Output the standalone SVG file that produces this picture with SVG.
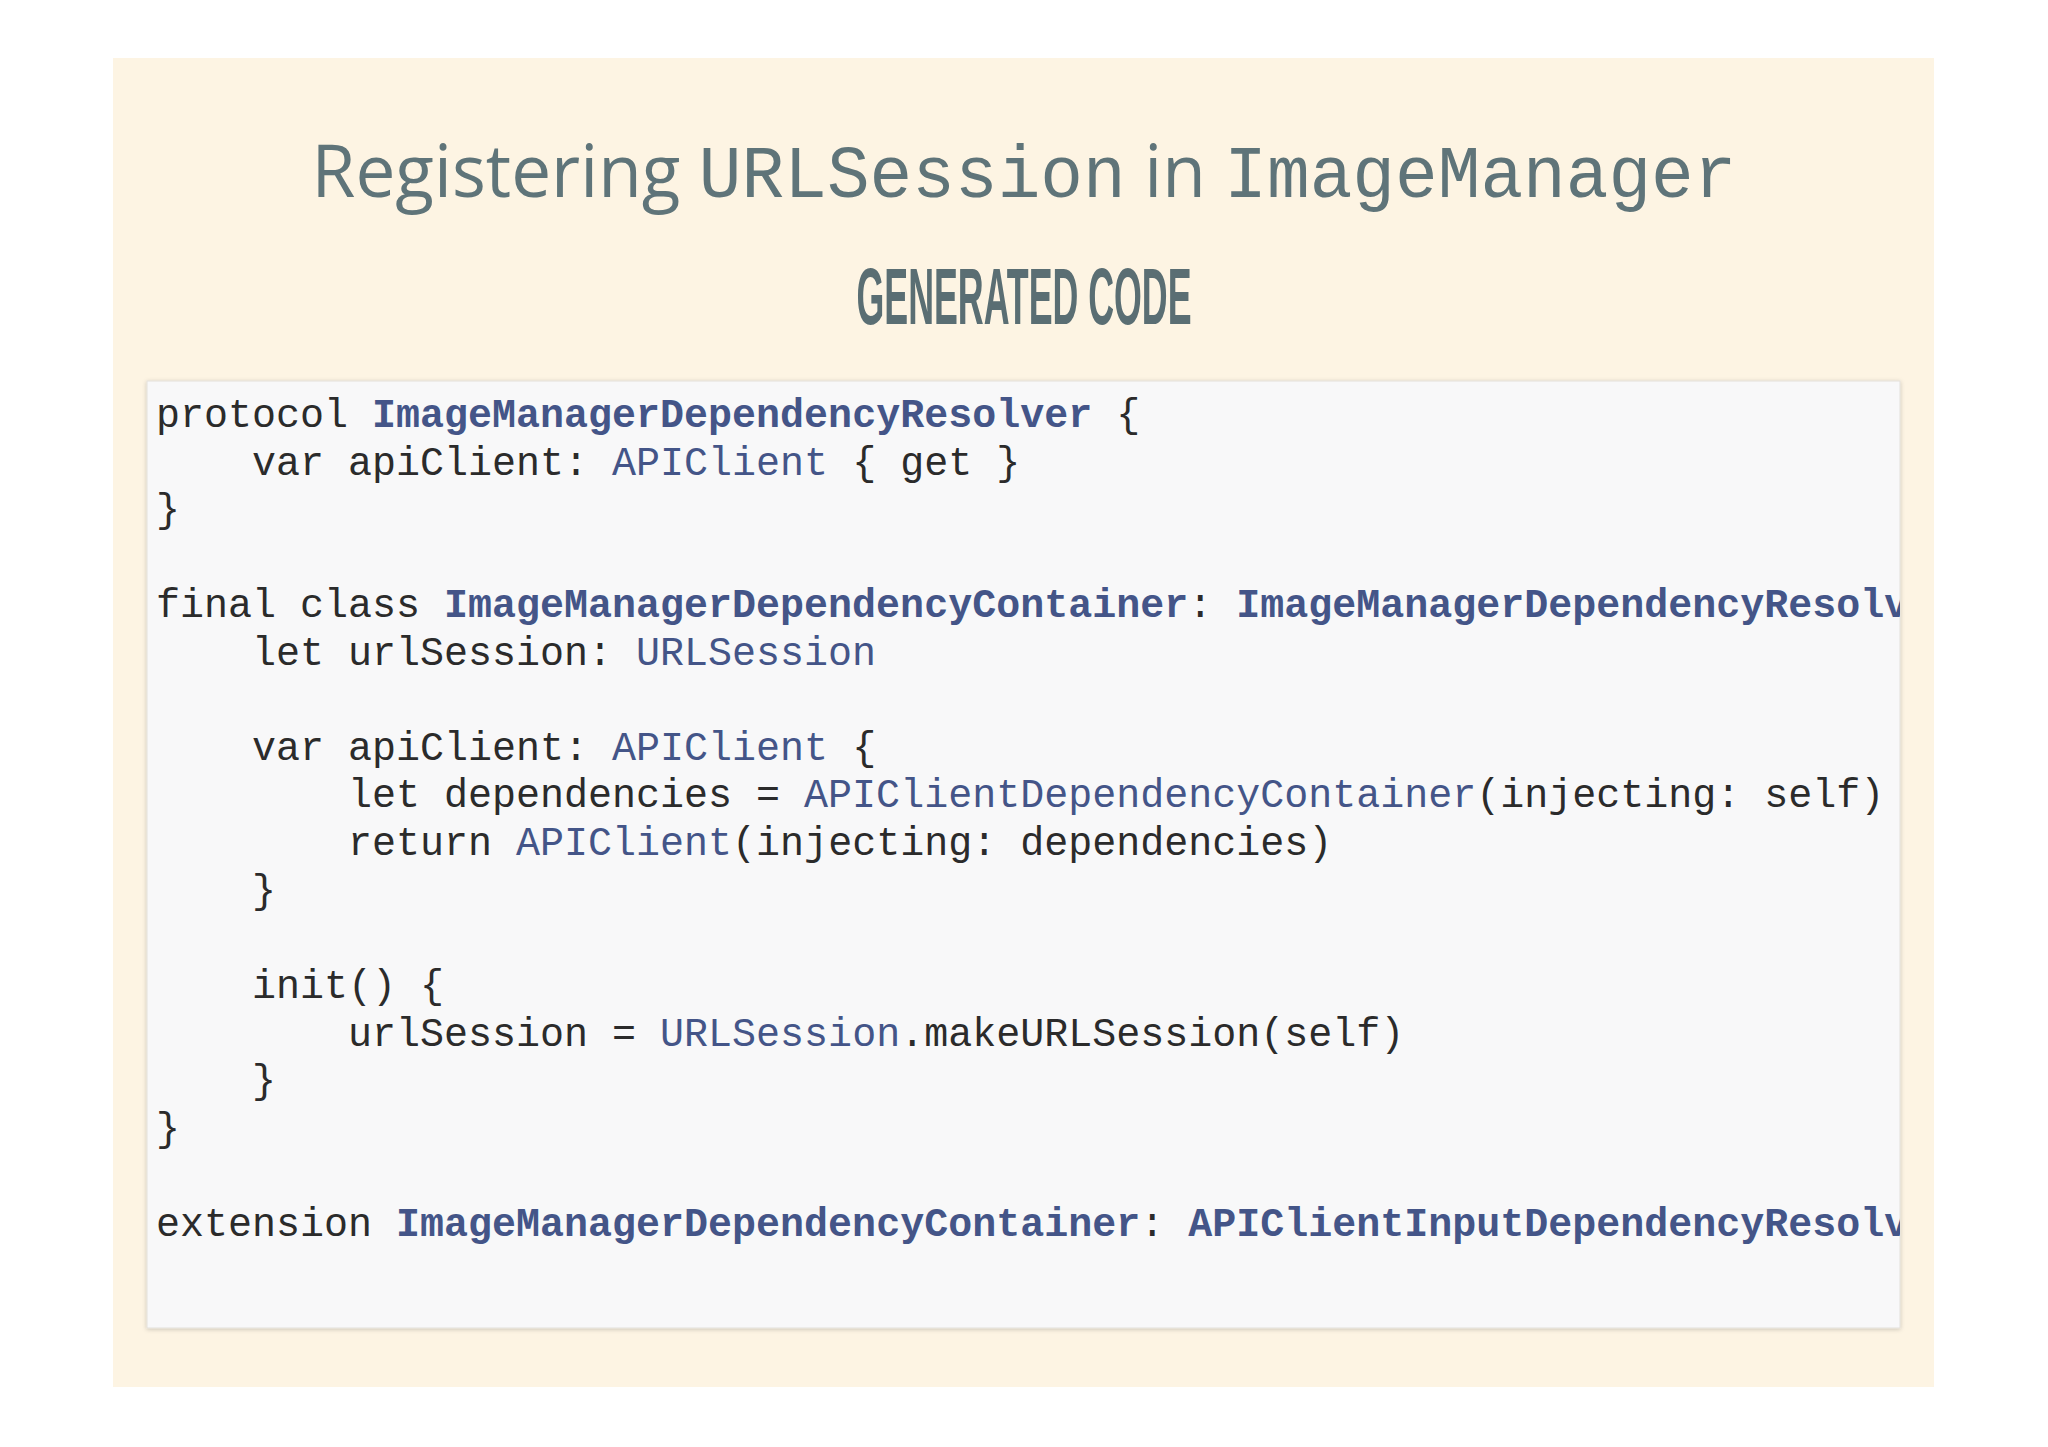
<svg xmlns="http://www.w3.org/2000/svg" width="2048" height="1447" viewBox="0 0 2048 1447">
<defs>
<style>
.c{font-family:"Liberation Mono","Courier New",monospace;font-size:40px;fill:#2b2b2b;white-space:pre}
.t{fill:#445588}
.b{fill:#445588;font-weight:bold}
</style>
<clipPath id="cb"><rect x="147" y="381" width="1753" height="947"/></clipPath>
<filter id="sh" x="-5%" y="-5%" width="110%" height="110%"><feDropShadow dx="0" dy="1" stdDeviation="2" flood-color="#000" flood-opacity="0.2"/></filter>
</defs>
<rect width="2048" height="1447" fill="#ffffff"/>
<rect x="113" y="58" width="1821" height="1329" fill="#fdf4e3"/>
<g id="title">
<text x="1024" y="197" text-anchor="middle" fill="#5f7479" font-size="74" font-family="'Open Sans','Liberation Sans',sans-serif" textLength="1425" lengthAdjust="spacingAndGlyphs">Registering <tspan font-family="'Liberation Mono',monospace">URLSession</tspan> in <tspan font-family="'Liberation Mono',monospace">ImageManager</tspan></text>
<text x="1024" y="324" text-anchor="middle" fill="#5a6e73" font-size="80" font-weight="bold" font-family="'Liberation Sans',sans-serif" textLength="335" lengthAdjust="spacingAndGlyphs">GENERATED CODE</text>
</g>
<g id="code">
<rect x="147" y="381" width="1753" height="947" fill="#f8f8f9" stroke="#e3e0da" stroke-width="1" filter="url(#sh)"/>
<g clip-path="url(#cb)">
<text class="c" x="156" y="427">protocol <tspan class="b">ImageManagerDependencyResolver</tspan> {</text>
<text class="c" x="156" y="475">    var apiClient: <tspan class="t">APIClient</tspan> { get }</text>
<text class="c" x="156" y="522">}</text>
<text class="c" x="156" y="617">final class <tspan class="b">ImageManagerDependencyContainer</tspan>: <tspan class="b">ImageManagerDependencyResolver</tspan> {</text>
<text class="c" x="156" y="665">    let urlSession: <tspan class="t">URLSession</tspan></text>
<text class="c" x="156" y="760">    var apiClient: <tspan class="t">APIClient</tspan> {</text>
<text class="c" x="156" y="807">        let dependencies = <tspan class="t">APIClientDependencyContainer</tspan>(injecting: self)</text>
<text class="c" x="156" y="855">        return <tspan class="t">APIClient</tspan>(injecting: dependencies)</text>
<text class="c" x="156" y="903">    }</text>
<text class="c" x="156" y="998">    init() {</text>
<text class="c" x="156" y="1046">        urlSession = <tspan class="t">URLSession</tspan>.makeURLSession(self)</text>
<text class="c" x="156" y="1093">    }</text>
<text class="c" x="156" y="1141">}</text>
<text class="c" x="156" y="1236">extension <tspan class="b">ImageManagerDependencyContainer</tspan>: <tspan class="b">APIClientInputDependencyResolver</tspan> {}</text>
</g>
</g>
</svg>
